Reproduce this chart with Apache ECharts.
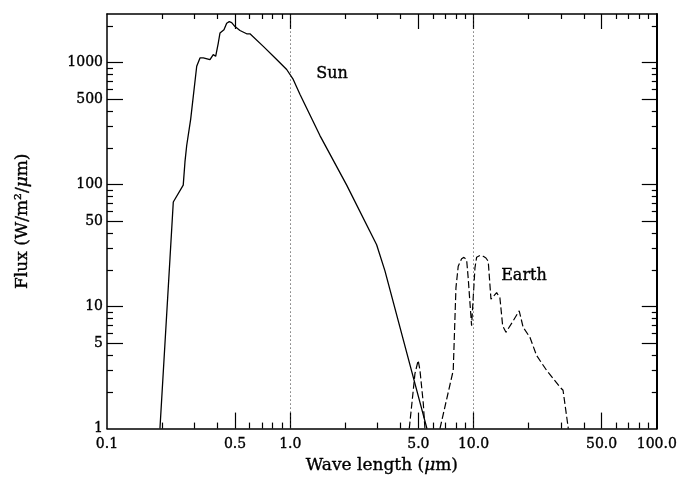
<!DOCTYPE html>
<html>
<head>
<meta charset="utf-8">
<script src="https://cdn.jsdelivr.net/npm/echarts@6/dist/echarts.min.js"></script>
<style>html,body{margin:0;padding:0;background:#fff}#c{width:680px;height:479px}</style>
</head>
<body>
<div id="c"></div>
<script>
// ---- data (wavelength in micrometres, flux in W/m^2/um) ----
const sunX = [0.1945, 0.2207, 0.230, 0.2606, 0.2664, 0.2722, 0.2862, 0.3087, 0.3217, 0.3353, 0.3647, 0.380, 0.3917, 0.4048, 0.4135, 0.4225, 0.4348, 0.4498, 0.4648, 0.479, 0.4993, 0.5316, 0.5782, 0.6027, 0.7126, 0.843, 0.956, 1.038, 1.129, 1.452, 2.032, 2.96, 3.286, 5.57];
const sunY = [1, 25, 72, 99, 154, 209, 344, 933, 1092, 1092, 1058, 1161, 1125, 1446, 1743, 1690, 1855, 2102, 2167, 2126, 1973, 1832, 1721, 1721, 1357, 1058, 877, 727, 549, 252, 99, 32.1, 19.6, 1];

const earthBandX = [4.46, 4.69, 4.79, 4.99, 5.10, 5.32, 5.43];
const earthBandY = [1, 2.06, 2.82, 3.62, 3.02, 1.61, 1];

const earthX = [6.56, 7.75, 8.02, 8.25, 8.61, 8.86, 9.17, 9.35, 9.76, 10.18, 10.40, 10.84, 11.30, 11.69, 12.03, 12.45, 13.37, 13.93, 14.42, 15.03, 16.47, 17.75, 18.66, 20.31, 22.09, 25.05, 29.6, 30.8, 32.9];
const earthY = [1, 3.0, 14.3, 21.4, 24.7, 25.3, 24.2, 17.2, 6.97, 20.75, 25.4, 26.2, 25.8, 25.0, 23.5, 11.5, 13.0, 11.8, 6.97, 6.15, 7.65, 9.23, 6.75, 5.6, 3.97, 3.0, 2.19, 2.06, 1];

const refLinesX = [1, 10];

const xLabelValues = [0.1, 0.5, 1, 5, 10, 50, 100];
const xTickLabels = ['0.1', '0.5', '1.0', '5.0', '10.0', '50.0', '100.0'];
const yLabelValues = [1, 5, 10, 50, 100, 500, 1000];
const yTickLabels = ['1', '5', '10', '50', '100', '500', '1000'];

const xMajorTicks = [0.5, 1, 5, 10, 50];
const xMinorTicks = [0.2, 0.3, 0.4, 0.6, 0.7, 0.8, 0.9, 2, 3, 4, 6, 7, 8, 9, 20, 30, 40, 60, 70, 80, 90];
const yMajorTicks = [5, 10, 50, 100, 500, 1000];
const yMinorTicks = [2, 3, 4, 6, 7, 8, 9, 20, 30, 40, 60, 70, 80, 90, 200, 300, 400, 600, 700, 800, 900, 2000];

const xMin = 0.1, xMax = 100, yMin = 1, yMax = 2500;

// ---- chart ----
const FONT = 'DejaVu Serif';
const INK = '#000';
const HEAVY = { textBorderColor: INK, textBorderWidth: 0.35 };

function pick(vals, labels, v) {
  for (let i = 0; i < vals.length; i++) {
    if (Math.abs(Math.log10(vals[i]) - Math.log10(v)) < 1e-6) return labels[i];
  }
  return '';
}
function zip(xs, ys) { return xs.map((x, i) => [x, ys[i]]); }

function baseAxis(dim, extra) {
  const a = {
    type: 'log', logBase: 10,
    min: dim === 'x' ? xMin : yMin,
    max: dim === 'x' ? xMax : yMax,
    splitLine: { show: false },
    minorTick: { show: false },
    minorSplitLine: { show: false },
    axisLine: { show: false },
    axisTick: { show: false },
    axisLabel: { show: false }
  };
  return Object.assign(a, extra);
}
function tickCfg(values, len) {
  return { show: true, inside: true, length: len, customValues: values, lineStyle: { color: INK, width: 1.2 } };
}
const italic = { fontFamily: FONT, fontSize: 17, fontStyle: 'italic', color: INK, textBorderColor: INK, textBorderWidth: 0.35 };

const xAxes = [
  baseAxis('x', {
    position: 'bottom',
    axisLine: { show: true, lineStyle: { color: INK, width: 1.5 } },
    axisTick: tickCfg(xMajorTicks, 16),
    axisLabel: Object.assign({
      show: true, customValues: xLabelValues, margin: 9,
      fontFamily: FONT, fontSize: 14, color: INK,
      formatter: v => pick(xLabelValues, xTickLabels, v)
    }, HEAVY),
    name: 'Wave length ({i|μ}m)',
    nameLocation: 'middle', nameGap: 26,
    nameTextStyle: Object.assign({ fontFamily: FONT, fontSize: 17, color: INK, rich: { i: italic } }, HEAVY)
  }),
  baseAxis('x', { position: 'bottom', axisTick: tickCfg(xMinorTicks, 6) }),
  baseAxis('x', {
    position: 'top',
    axisLine: { show: true, lineStyle: { color: INK, width: 1.5 } },
    axisTick: tickCfg(xMajorTicks, 15)
  }),
  baseAxis('x', { position: 'top', axisTick: tickCfg(xMinorTicks, 5) })
];

const yAxes = [
  baseAxis('y', {
    position: 'left',
    axisLine: { show: true, lineStyle: { color: INK, width: 1.5 } },
    axisTick: tickCfg(yMajorTicks, 16),
    axisLabel: Object.assign({
      show: true, customValues: yLabelValues, margin: 4,
      fontFamily: FONT, fontSize: 14, color: INK,
      formatter: v => pick(yLabelValues, yTickLabels, v)
    }, HEAVY),
    name: 'Flux (W/m²/{i|μ}m)',
    nameLocation: 'middle', nameGap: 76, nameRotate: 90,
    nameTextStyle: Object.assign({ fontFamily: FONT, fontSize: 17, color: INK, rich: { i: italic } }, HEAVY)
  }),
  baseAxis('y', { position: 'left', axisTick: tickCfg(yMinorTicks, 6) }),
  baseAxis('y', {
    position: 'right',
    axisLine: { show: true, lineStyle: { color: INK, width: 2 } },
    axisTick: tickCfg(yMajorTicks, 15)
  }),
  baseAxis('y', { position: 'right', axisTick: tickCfg(yMinorTicks, 5) })
];

const lineBase = {
  type: 'line', xAxisIndex: 0, yAxisIndex: 0,
  showSymbol: false, symbol: 'none', smooth: false,
  animation: false, silent: true
};

const option = {
  animation: false,
  backgroundColor: '#fff',
  grid: { left: 107, right: 23, top: 14, bottom: 47, containLabel: false },
  xAxis: xAxes,
  yAxis: yAxes,
  series: [
    Object.assign({}, lineBase, {
      name: 'Sun',
      data: zip(sunX, sunY),
      lineStyle: { color: INK, width: 1.3 },
      markLine: {
        silent: true, symbol: 'none', animation: false,
        label: { show: false },
        lineStyle: { color: '#333', width: 1, type: [1, 3] },
        data: refLinesX.map(v => ({ xAxis: v }))
      }
    }),
    Object.assign({}, lineBase, {
      name: 'Earth band',
      data: zip(earthBandX, earthBandY),
      lineStyle: { color: INK, width: 1.2, type: [7, 3] }
    }),
    Object.assign({}, lineBase, {
      name: 'Earth',
      data: zip(earthX, earthY),
      lineStyle: { color: INK, width: 1.2, type: [7, 3] }
    })
  ],
  graphic: [
    { type: 'text', left: 316, top: 66, style: { text: 'Sun', font: '16px "DejaVu Serif"', fill: INK, stroke: INK, lineWidth: 0.35 } },
    { type: 'text', left: 501, top: 268, style: { text: 'Earth', font: '16px "DejaVu Serif"', fill: INK, stroke: INK, lineWidth: 0.35 } }
  ]
};

const chart = echarts.init(document.getElementById('c'), null, { renderer: 'canvas' });
chart.setOption(option);
</script>
</body>
</html>
